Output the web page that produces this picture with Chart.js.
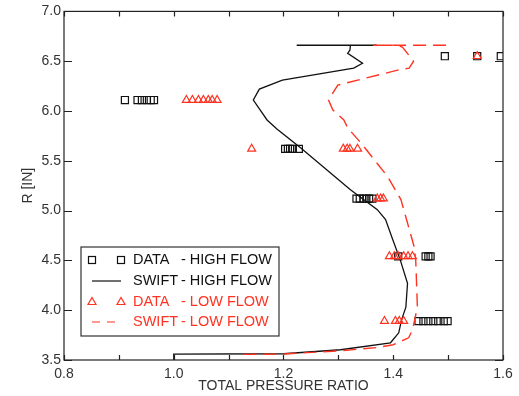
<!DOCTYPE html>
<html lang="en">
  <head>
    <meta charset="UTF-8" />
    <title>Total pressure ratio profile</title>
    <script src="https://cdn.jsdelivr.net/npm/chart.js"></script>
    <style>
      html, body {
        margin: 0;
        padding: 0;
        background-color: #fff;
      }
      #wrap {
        width: 519px;
        height: 396px;
      }
    </style>
  </head>
  <body>
    <div id="wrap"><canvas id="profileChart" width="519" height="396"></canvas></div>

    <script>
      // measured data (total pressure ratio vs radius)
      const highFlowDataP = [1.494, 1.553, 1.596,
        0.911, 0.934, 0.942, 0.951, 0.958, 0.964,
        1.203, 1.208, 1.212, 1.217, 1.228,
        1.333, 1.339, 1.346, 1.351, 1.356, 1.362,
        1.409, 1.459, 1.464, 1.468,
        1.446, 1.455, 1.464, 1.473, 1.482, 1.492, 1.499];
      const highFlowDataR = [6.55, 6.55, 6.55,
        6.11, 6.11, 6.11, 6.11, 6.11, 6.11,
        5.62, 5.62, 5.62, 5.62, 5.62,
        5.12, 5.12, 5.12, 5.12, 5.12, 5.12,
        4.54, 4.54, 4.54, 4.54,
        3.89, 3.89, 3.89, 3.89, 3.89, 3.89, 3.89];

      const lowFlowDataP = [1.553,
        1.023, 1.034, 1.045, 1.054, 1.063, 1.070, 1.079,
        1.142, 1.309, 1.316, 1.321, 1.335,
        1.371, 1.377, 1.382,
        1.393, 1.402, 1.409, 1.419, 1.427, 1.435,
        1.384, 1.404, 1.411, 1.419];
      const lowFlowDataR = [6.55,
        6.11, 6.11, 6.11, 6.11, 6.11, 6.11, 6.11,
        5.62, 5.62, 5.62, 5.62, 5.62,
        5.12, 5.12, 5.12,
        4.54, 4.54, 4.54, 4.54, 4.54, 4.54,
        3.89, 3.89, 3.89, 3.89];

      // SWIFT predictions
      const highSwiftP = [1.0, 1.0, 1.2, 1.304, 1.395, 1.41, 1.415, 1.423, 1.426, 1.413,
        1.399, 1.386, 1.371, 1.322, 1.231, 1.188, 1.170, 1.145, 1.156, 1.198,
        1.328, 1.344, 1.317, 1.321, 1.322, 1.37, 1.224];
      const highSwiftR = [3.50, 3.56, 3.563, 3.603, 3.673, 3.773, 3.90, 4.03, 4.27, 4.50,
        4.71, 4.91, 5.01, 5.21, 5.63, 5.82, 5.91, 6.11, 6.22, 6.31,
        6.43, 6.48, 6.58, 6.61, 6.66, 6.66, 6.66];

      const lowSwiftP = [1.127, 1.20, 1.304, 1.37, 1.40, 1.428, 1.435, 1.444, 1.441, 1.438,
        1.414, 1.39, 1.341, 1.317, 1.31, 1.29, 1.282, 1.299, 1.408, 1.429,
        1.437, 1.417, 1.41, 1.363, 1.5];
      const lowSwiftR = [3.556, 3.56, 3.593, 3.625, 3.653, 3.723, 3.80, 4.03, 4.50, 4.64,
        5.11, 5.34, 5.68, 5.83, 5.91, 6.01, 6.11, 6.26, 6.41, 6.43,
        6.50, 6.64, 6.66, 6.66, 6.66];

      const xTicks = [0.8, 0.9, 1.0, 1.1, 1.2, 1.3, 1.4, 1.5, 1.6];
      const yTicks = [3.5, 4.0, 4.5, 5.0, 5.5, 6.0, 6.5, 7.0];

      const RED = "#ff3322";
      const FONT = "'Liberation Sans', Arial, sans-serif";

      const pairs = (xs, ys) => xs.map((x, i) => ({ x: x, y: ys[i] }));

      // frame, inward ticks and the boxed legend
      const framePlugin = {
        id: "frame",
        afterDraw(chart) {
          const { ctx, chartArea: a, scales } = chart;
          ctx.save();
          ctx.strokeStyle = "#222";
          ctx.lineWidth = 1.2;
          ctx.setLineDash([]);
          ctx.strokeRect(a.left, a.top, a.right - a.left, a.bottom - a.top);
          ctx.beginPath();
          xTicks.forEach((v) => {
            const px = Math.round(scales.x.getPixelForValue(v)) + 0.5;
            ctx.moveTo(px, a.bottom); ctx.lineTo(px, a.bottom - 5);
            ctx.moveTo(px, a.top); ctx.lineTo(px, a.top + 5);
          });
          yTicks.forEach((v) => {
            const py = Math.round(scales.y.getPixelForValue(v)) + 0.5;
            ctx.moveTo(a.left, py); ctx.lineTo(a.left + 8, py);
            ctx.moveTo(a.right, py); ctx.lineTo(a.right - 8, py);
          });
          ctx.stroke();

          // legend
          const lx = 81, ly = 247, lw = 198, lh = 89;
          ctx.fillStyle = "#fff";
          ctx.fillRect(lx, ly, lw, lh);
          ctx.strokeStyle = "#333";
          ctx.lineWidth = 1.2;
          ctx.strokeRect(lx, ly, lw, lh);

          const rows = [
            { y: 260, color: "#111", kind: "square", a: "DATA", b: "- HIGH FLOW" },
            { y: 281, color: "#111", kind: "solid", a: "SWIFT", b: "- HIGH FLOW" },
            { y: 302, color: RED, kind: "tri", a: "DATA", b: "- LOW FLOW" },
            { y: 322, color: RED, kind: "dash", a: "SWIFT", b: "- LOW FLOW" },
          ];
          ctx.font = "14.5px " + FONT;
          ctx.textBaseline = "middle";
          rows.forEach((r) => {
            ctx.strokeStyle = r.color;
            ctx.fillStyle = r.color;
            ctx.lineWidth = 1.2;
            if (r.kind === "square") {
              [92, 121].forEach((cx) => ctx.strokeRect(cx - 3.5, r.y - 3.5, 7, 7));
            } else if (r.kind === "tri") {
              [92, 121].forEach((cx) => {
                ctx.beginPath();
                ctx.moveTo(cx, r.y - 4.5);
                ctx.lineTo(cx + 4, r.y + 2.5);
                ctx.lineTo(cx - 4, r.y + 2.5);
                ctx.closePath();
                ctx.stroke();
              });
            } else {
              ctx.setLineDash(r.kind === "dash" ? [8, 7] : []);
              ctx.beginPath();
              ctx.moveTo(92, r.y); ctx.lineTo(121, r.y);
              ctx.stroke();
              ctx.setLineDash([]);
            }
            ctx.fillText(r.a, 133, r.y);
            ctx.fillText(r.b, 181, r.y);
          });
          ctx.restore();
        },
      };

      new Chart(document.getElementById("profileChart"), {
        type: "scatter",
        data: {
          datasets: [
            {
              label: "DATA - LOW FLOW",
              data: pairs(lowFlowDataP, lowFlowDataR),
              pointStyle: "triangle",
              pointRadius: 4.6,
              borderColor: RED,
              backgroundColor: "rgba(0,0,0,0)",
              borderWidth: 1.2,
            },
            {
              label: "SWIFT - LOW FLOW",
              data: pairs(lowSwiftP, lowSwiftR),
              showLine: true,
              pointRadius: 0,
              borderColor: RED,
              borderWidth: 1.4,
              borderDash: [13, 7],
              tension: 0,
            },
            {
              label: "DATA - HIGH FLOW",
              data: pairs(highFlowDataP, highFlowDataR),
              pointStyle: "rect",
              pointRadius: 5,
              borderColor: "#111",
              backgroundColor: "rgba(0,0,0,0)",
              borderWidth: 1.2,
            },
            {
              label: "SWIFT - HIGH FLOW",
              data: pairs(highSwiftP, highSwiftR),
              showLine: true,
              pointRadius: 0,
              borderColor: "#111",
              borderWidth: 1.3,
              tension: 0,
            },
          ],
        },
        options: {
          responsive: false,
          animation: false,
          events: [],
          layout: { padding: { top: 11, right: 16, left: 0, bottom: 0 } },
          plugins: {
            legend: { display: false },
            tooltip: { enabled: false },
          },
          scales: {
            x: {
              type: "linear",
              min: 0.8,
              max: 1.6,
              grid: { display: false, drawTicks: false },
              border: { display: false },
              afterBuildTicks: (s) => { s.ticks = xTicks.map((v) => ({ value: v })); },
              afterFit: (s) => { s.height = 36; },
              ticks: {
                autoSkip: false,
                maxRotation: 0,
                padding: 6,
                color: "#333",
                font: { family: FONT, size: 14 },
                callback: (v) => (Math.round(v * 10) % 2 === 0 ? Number(v).toFixed(1) : ""),
              },
              title: {
                display: true,
                text: "TOTAL PRESSURE RATIO",
                color: "#333",
                font: { family: FONT, size: 14 },
                padding: { top: 0, bottom: 1 },
              },
            },
            y: {
              type: "linear",
              min: 3.5,
              max: 7.0,
              grid: { display: false, drawTicks: false },
              border: { display: false },
              afterBuildTicks: (s) => { s.ticks = yTicks.map((v) => ({ value: v })); },
              afterFit: (s) => { s.width = 64; },
              ticks: {
                padding: 3,
                color: "#333",
                font: { family: FONT, size: 14 },
                callback: (v) => Number(v).toFixed(1),
              },
              title: {
                display: true,
                text: "R [IN]",
                color: "#333",
                font: { family: FONT, size: 14 },
                padding: { top: 20, bottom: 0 },
              },
            },
          },
        },
        plugins: [framePlugin],
      });
    </script>
  </body>
</html>
